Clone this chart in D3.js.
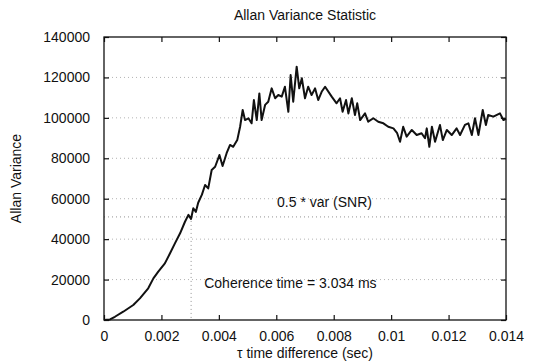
<!DOCTYPE html>
<head>
<script src="https://d3js.org/d3.v7.min.js"></script>
<style>
  html, body { margin: 0; padding: 0; background: #fff; }
  text { font-family: "Liberation Sans", Arial, sans-serif; fill: #111; }
  .grid { stroke: #a0a0a0; stroke-width: 0.8; stroke-dasharray: 1,3; }
</style>
</head>
<body>
<svg width="537" height="364"></svg>
<script>
// values
var tau = [0, 0.00021, 0.00038, 0.00067, 0.00102, 0.00125, 0.00154, 0.00172, 0.00189, 0.00212,
  0.00230, 0.00247, 0.00265, 0.00282, 0.00294, 0.00303, 0.00311, 0.00320, 0.00328, 0.00341,
  0.00352, 0.00363, 0.00375, 0.00387, 0.00402, 0.00413, 0.00427, 0.00439, 0.00450, 0.00464,
  0.00474, 0.00483, 0.00491, 0.00503, 0.00514, 0.00522, 0.00532, 0.00541, 0.00549, 0.00561,
  0.00572, 0.00584, 0.00596, 0.00607, 0.00619, 0.00630, 0.00642, 0.00650, 0.00659, 0.00671,
  0.00680, 0.00689, 0.00700, 0.00711, 0.00723, 0.00735, 0.00746, 0.00758, 0.00770, 0.00793,
  0.00810, 0.00822, 0.00831, 0.00843, 0.00851, 0.00863, 0.00874, 0.00882, 0.00892, 0.00909,
  0.00920, 0.00938, 0.00955, 0.00973, 0.00990, 0.01008, 0.01021, 0.01031, 0.01042, 0.01054,
  0.01072, 0.01089, 0.01106, 0.01118, 0.01124, 0.01133, 0.01142, 0.01153, 0.01170, 0.01180,
  0.01194, 0.01211, 0.01228, 0.01240, 0.01257, 0.01269, 0.01281, 0.01292, 0.01304, 0.01319,
  0.01330, 0.01338, 0.01356, 0.01379, 0.01391, 0.01400];

var allan = [0, 300, 1600, 4100, 7400, 10700, 15700, 20600, 23900, 28000,
  33000, 37900, 42900, 48600, 52000, 50000, 55300, 53500, 58000, 62000,
  66800, 65100, 74200, 75800, 81600, 76200, 82500, 86600, 85700, 89000,
  95600, 103900, 98900, 99800, 97300, 108800, 98900, 112100, 98900, 106400,
  108000, 114600, 109700, 111300, 110500, 115400, 103000, 121200, 108000, 125300,
  114600, 119600, 109700, 115400, 111300, 114600, 108800, 112900, 115400, 110500,
  107200, 109700, 103000, 108800, 102200, 109700, 101400, 107200, 98900, 102200,
  98100, 99800, 98100, 97300, 95600, 94800, 92400, 88200, 95600, 90700,
  94000, 91500, 92400, 89900, 94800, 85700, 95600, 88200, 96500, 89000,
  94000, 91500, 94800, 91500, 96500, 97300, 91500, 99800, 91500, 103900,
  96500, 101400, 100600, 102200, 98900, 99500];

var xTicks = [0, 0.002, 0.004, 0.006, 0.008, 0.01, 0.012, 0.014];
var xTickLabels = ["0", "0.002", "0.004", "0.006", "0.008", "0.01", "0.012", "0.014"];
var yTicks = [0, 20000, 40000, 60000, 80000, 100000, 120000, 140000];
var snrLevel = 51000;
var coherenceTime = 0.003034;

var svg = d3.select("svg"),
    margin = {top: 37, right: 31, bottom: 44, left: 104},
    width = 537 - margin.left - margin.right,
    height = 364 - margin.top - margin.bottom;

var x = d3.scaleLinear().domain([0, 0.014]).range([0, width]);
var y = d3.scaleLinear().domain([0, 140000]).range([height, 0]);

var g = svg.append("g").attr("transform", "translate(" + margin.left + "," + margin.top + ")");

// dotted grid lines
g.selectAll(".hgrid").data(yTicks.slice(1, -1)).enter().append("line")
    .attr("class", "grid")
    .attr("x1", 0).attr("x2", width)
    .attr("y1", function(d) { return y(d); })
    .attr("y2", function(d) { return y(d); });

// 0.5 * var(SNR) level and coherence marker
g.append("line").attr("class", "grid").style("stroke", "#777")
    .attr("x1", 0).attr("x2", width)
    .attr("y1", y(snrLevel)).attr("y2", y(snrLevel));
g.append("line").attr("class", "grid").style("stroke", "#777")
    .attr("x1", x(coherenceTime)).attr("x2", x(coherenceTime))
    .attr("y1", y(snrLevel)).attr("y2", y(0));

// axes, gnuplot style: inward ticks mirrored on every side
var tickLen = 5;
g.append("g").attr("transform", "translate(0," + height + ")")
    .call(d3.axisBottom(x).tickValues(xTicks).tickSize(-tickLen).tickPadding(11)
      .tickFormat(function(d, i) { return xTickLabels[i]; }));
g.append("g")
    .call(d3.axisTop(x).tickValues(xTicks).tickSize(-tickLen).tickFormat(""));
g.append("g")
    .call(d3.axisLeft(y).tickValues(yTicks).tickSize(-tickLen).tickPadding(14)
      .tickFormat(d3.format("d")));
g.append("g").attr("transform", "translate(" + width + ",0)")
    .call(d3.axisRight(y).tickValues(yTicks).tickSize(-tickLen).tickFormat(""));

g.selectAll(".domain").remove();
g.selectAll(".tick line").attr("stroke", "#111").attr("stroke-width", 1.2);
g.selectAll(".tick text").style("font-size", "14px").attr("fill", "#111");

g.append("rect").attr("width", width).attr("height", height)
    .attr("fill", "none").attr("stroke", "#111").attr("stroke-width", 1.3);

// the curve
var line = d3.line()
    .x(function(d, i) { return x(tau[i]); })
    .y(function(d) { return y(d); });
g.append("path").datum(allan)
    .attr("fill", "none").attr("stroke", "#111")
    .attr("stroke-width", 2).attr("stroke-linejoin", "round")
    .attr("d", line);

// annotations
g.append("text").attr("x", x(0.00768)).attr("y", y(snrLevel) - 10)
    .attr("text-anchor", "middle").style("font-size", "14px")
    .text("0.5 * var (SNR)");
g.append("text").attr("x", x(0.00349)).attr("y", 251)
    .style("font-size", "14px")
    .text("Coherence time = 3.034 ms");

// titles
svg.append("text").attr("x", margin.left + width / 2).attr("y", 20)
    .attr("text-anchor", "middle").style("font-size", "14px")
    .text("Allan Variance Statistic");
svg.append("text").attr("x", margin.left + width / 2).attr("y", 358)
    .attr("text-anchor", "middle").style("font-size", "14px")
    .text("τ time difference (sec)");
svg.append("text")
    .attr("transform", "translate(21," + (margin.top + height / 2) + ") rotate(-90)")
    .attr("text-anchor", "middle").style("font-size", "14px")
    .text("Allan Variance");
</script>
</body>
